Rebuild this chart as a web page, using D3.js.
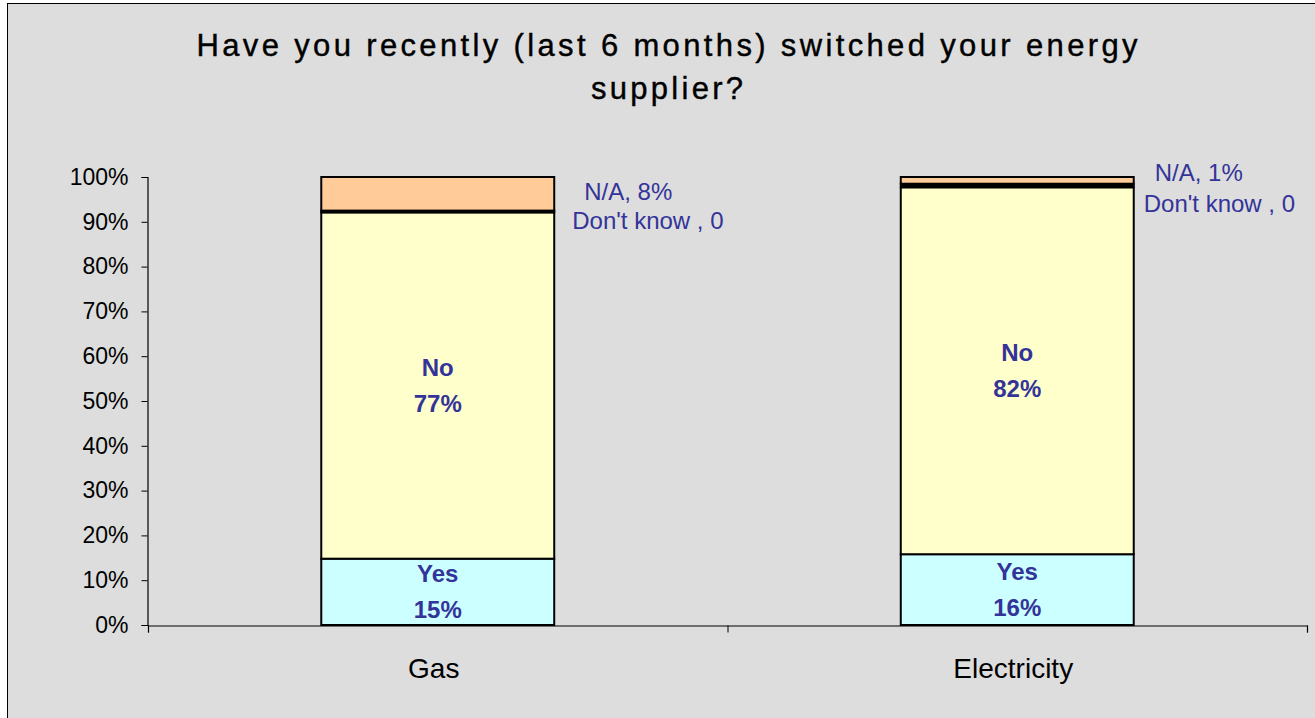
<!DOCTYPE html>
<html>
<head>
<meta charset="utf-8">
<script src="https://cdn.jsdelivr.net/npm/d3@7"></script>
<style>
  html, body { margin: 0; padding: 0; background: #ffffff; }
  svg { display: block; font-family: "Liberation Sans", Arial, sans-serif; }
</style>
</head>
<body>
<svg id="chart" width="1315" height="718"></svg>
<script>
// ---- data ----
const titleLines = ["Have you recently (last 6 months) switched your energy", "supplier?"];
const categories = ["Gas", "Electricity"];
const seriesNames = ["Yes", "No", "Don't know", "N/A"];
const yesValues = [0.148, 0.158];
const noValues = [0.773, 0.819];
const dontKnowValues = [0.004, 0.008];
const naValues = [0.075, 0.015];
const yesLabels = ["15%", "16%"];
const noLabels = ["77%", "82%"];
const dontKnowLabels = ["Don't know , 0", "Don't know , 0"];
const naLabels = ["N/A, 8%", "N/A, 1%"];
const yTicks = [0, 0.1, 0.2, 0.3, 0.4, 0.5, 0.6, 0.7, 0.8, 0.9, 1.0];

// ---- layout / style ----
const colors = { "Yes": "#CCFFFF", "No": "#FFFFCC", "Don't know": "#000000", "N/A": "#FFCC99" };
const labelColor = "#333399";
const plot = { left: 148, right: 1307, top: 177, bottom: 625 };
// side-label offsets (relative to bar right edge / top of bar)
const naOffset = [{ dx: 30, dy: 23 }, { dx: 21, dy: 4 }];
const dkOffset = [{ dx: 18, dy: 52 }, { dx: 10, dy: 35 }];

const svg = d3.select("#chart");

// background panel
svg.append("rect")
  .attr("x", 7.5).attr("y", 3.5)
  .attr("width", 1330).attr("height", 730)
  .attr("fill", "#DDDDDD")
  .attr("stroke", "#000").attr("stroke-width", 1);

// title
const title = svg.append("text")
  .attr("text-anchor", "middle")
  .attr("font-size", 31)
  .attr("fill", "#000")
  .attr("stroke", "#000").attr("stroke-width", 0.4);
title.append("tspan").attr("x", 667).attr("y", 56)
  .attr("textLength", 941).attr("lengthAdjust", "spacing").text(titleLines[0]);
title.append("tspan").attr("x", 667).attr("y", 99)
  .attr("textLength", 152).attr("lengthAdjust", "spacing").text(titleLines[1]);

// scales
const x = d3.scaleBand().domain(categories)
  .range([plot.left, plot.right])
  .paddingInner(0.598).paddingOuter(0.299);
const y = d3.scaleLinear().domain([0, 1]).range([plot.bottom, plot.top]);

// stack
const rows = categories.map((c, i) => ({
  cat: c,
  "Yes": yesValues[i], "No": noValues[i], "Don't know": dontKnowValues[i], "N/A": naValues[i]
}));
const stacked = d3.stack().keys(seriesNames)(rows);

const g = svg.append("g");
stacked.forEach(layer => {
  g.selectAll(null).data(layer).join("rect")
    .attr("x", d => x(d.data.cat))
    .attr("width", x.bandwidth())
    .attr("y", d => y(d[1]))
    .attr("height", d => y(d[0]) - y(d[1]))
    .attr("fill", colors[layer.key])
    .attr("stroke", "#000")
    .attr("stroke-width", 2);
});

// axes
const yAxis = d3.axisLeft(y).tickValues(yTicks)
  .tickFormat(d3.format(".0%")).tickSize(6).tickPadding(13);
const yg = svg.append("g").attr("transform", `translate(${plot.left - 0.5},0)`).call(yAxis);
yg.select(".domain").attr("stroke", "#000").attr("stroke-width", 1.2);
yg.selectAll(".tick line").attr("stroke", "#000");
yg.selectAll(".tick text").attr("font-size", 23).attr("fill", "#000")
  .attr("font-family", "Liberation Sans, Arial, sans-serif");

const xb = d3.scaleLinear().domain([0, categories.length]).range([plot.left, plot.right]);
const xAxis = d3.axisBottom(xb).ticks(categories.length).tickFormat("").tickSize(7).tickSizeOuter(7);
const xg = svg.append("g").attr("transform", `translate(0,${plot.bottom + 0.5})`).call(xAxis);
xg.select(".domain").attr("stroke", "#000").attr("stroke-width", 1.2);
xg.selectAll(".tick line").attr("stroke", "#000");

svg.append("g").selectAll("text").data(categories).join("text")
  .attr("x", d => x(d) + x.bandwidth() / 2 - 4)
  .attr("y", 678)
  .attr("text-anchor", "middle")
  .attr("font-size", 28)
  .attr("fill", "#000")
  .text(d => d);

// in-bar labels
function inBar(names, values, bases, labels) {
  const lg = svg.append("g").attr("font-size", 24).attr("font-weight", "bold")
    .attr("fill", labelColor).attr("text-anchor", "middle");
  categories.forEach((c, i) => {
    const cy = y(bases[i] + values[i] / 2);
    const cx = x(c) + x.bandwidth() / 2;
    lg.append("text").attr("x", cx).attr("y", cy - 18).attr("dy", "0.36em").text(names);
    lg.append("text").attr("x", cx).attr("y", cy + 18).attr("dy", "0.36em").text(labels[i]);
  });
}
inBar("Yes", yesValues, [0, 0], yesLabels);
inBar("No", noValues, yesValues, noLabels);

// side labels
const sg = svg.append("g").attr("font-size", 24).attr("fill", labelColor);
categories.forEach((c, i) => {
  const rx = x(c) + x.bandwidth();
  const topY = y(1);
  sg.append("text").attr("x", rx + naOffset[i].dx).attr("y", topY + naOffset[i].dy).text(naLabels[i]);
  sg.append("text").attr("x", rx + dkOffset[i].dx).attr("y", topY + dkOffset[i].dy).text(dontKnowLabels[i]);
});
</script>
</body>
</html>
